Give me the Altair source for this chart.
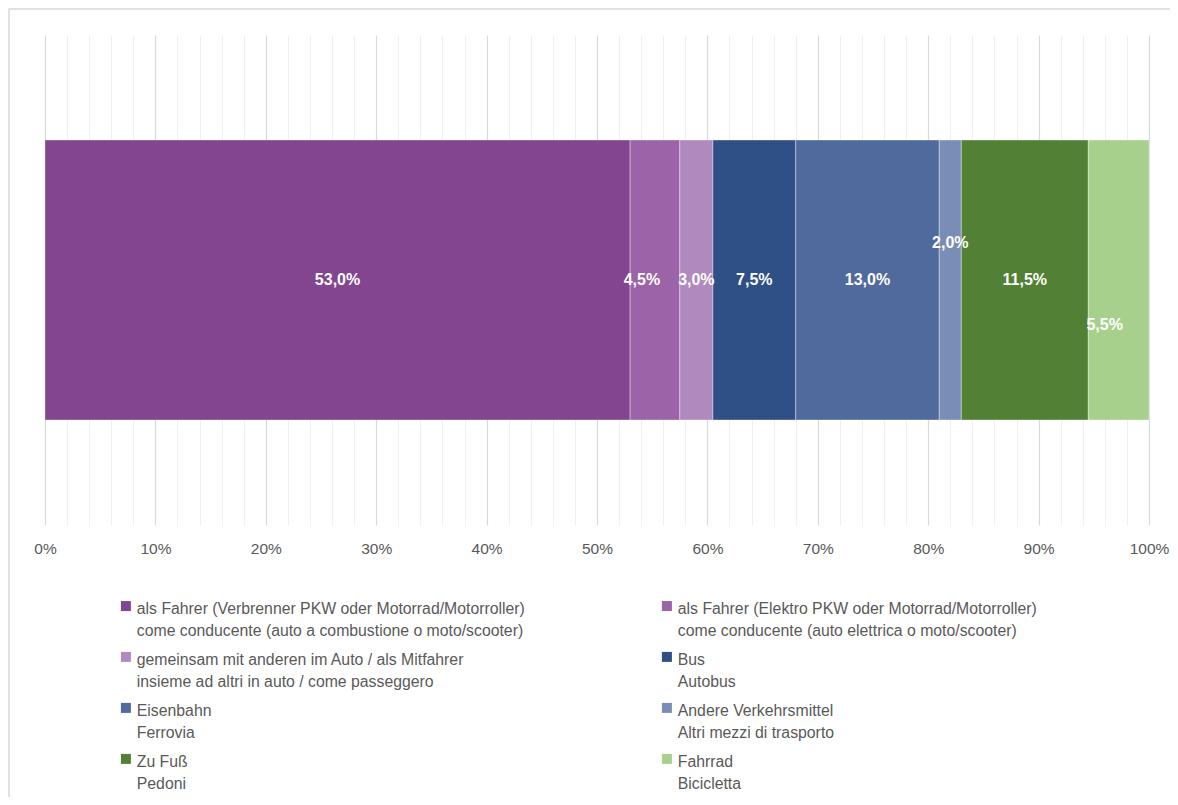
import altair as alt
import pandas as pd

categories = [
    "als Fahrer (Verbrenner PKW oder Motorrad/Motorroller)\ncome conducente (auto a combustione o moto/scooter)",
    "als Fahrer (Elektro PKW oder Motorrad/Motorroller)\ncome conducente (auto elettrica o moto/scooter)",
    "gemeinsam mit anderen im Auto / als Mitfahrer\ninsieme ad altri in auto / come passeggero",
    "Bus\nAutobus",
    "Eisenbahn\nFerrovia",
    "Andere Verkehrsmittel\nAltri mezzi di trasporto",
    "Zu Fuß\nPedoni",
    "Fahrrad\nBicicletta",
]
shares = [53.0, 4.5, 3.0, 7.5, 13.0, 2.0, 11.5, 5.5]
labels = ["53,0%", "4,5%", "3,0%", "7,5%", "13,0%", "2,0%", "11,5%", "5,5%"]
colors = ["#83458F", "#9B63A8", "#B089BE", "#2F4F87", "#506A9D", "#798DB6", "#528034", "#A8D08D"]
major_ticks = list(range(0, 101, 10))
minor_ticks = [v for v in range(0, 101, 2) if v % 10]

df = pd.DataFrame({
    "idx": list(range(len(categories))),
    "cat": categories,
    "share": shares,
    "label": labels,
    "grp": ["all"] * len(categories),
})

W, H = 1104, 490
GRAY = "#595959"

base = alt.Chart(df).transform_stack(
    stack="share", as_=["x0", "x1"], groupby=["grp"], sort=[alt.SortField("idx")]
).transform_calculate(mid="(datum.x0 + datum.x1) / 2")

yenc = alt.Y("grp:N", axis=None, scale=alt.Scale(paddingInner=0, paddingOuter=0.375))

bars = base.mark_bar(stroke="white", strokeWidth=0.6, strokeOpacity=0.6).encode(
    x=alt.X("x0:Q", scale=alt.Scale(domain=[0, 100], nice=False),
            axis=alt.Axis(orient="bottom", values=minor_ticks, grid=True, gridColor="#efefef",
                          gridWidth=1, labels=False, ticks=False, domain=False, title=None)),
    x2="x1:Q",
    y=yenc,
    color=alt.Color("cat:N", scale=alt.Scale(domain=categories, range=colors),
                    legend=alt.Legend(orient="none", legendX=73, legendY=559, columns=2,
                                      direction="horizontal",
                                      columnPadding=134, rowPadding=6, padding=0,
                                      symbolType="M-1,-0.2H1V1.8H-1Z", symbolSize=100,
                                      symbolStrokeWidth=0,
                                      labelExpr="split(datum.label, '\\n')",
                                      labelFont="Liberation Sans", labelFontSize=15.8,
                                      labelColor=GRAY, labelLimit=700, labelBaseline="top",
                                      labelOffset=3, title=None)),
)

def txt(cond, dx=0, dy=0, axis=False):
    if axis:
        xenc = alt.X("mid:Q", axis=alt.Axis(
            orient="bottom", values=major_ticks, grid=True, gridColor="#d9d9d9", gridWidth=1.2,
            labelExpr="datum.value + '%'", labelFont="Liberation Sans", labelFlush=False,
            labelFontSize=15.5, labelColor=GRAY, labelPadding=16,
            ticks=False, domain=False, title=None))
    else:
        xenc = alt.X("mid:Q", axis=None)
    return base.transform_filter(cond).mark_text(
        font="Liberation Sans", fontWeight="bold",
        fontSize=16, color="white", dx=dx, dy=dy,
    ).encode(x=xenc, y=yenc, text="label:N")

t_main = txt("datum.idx != 1 && datum.idx != 5 && datum.idx != 7", axis=True)
t1 = txt("datum.idx == 1", dx=-13)
t5 = txt("datum.idx == 5", dy=-37)
t7 = txt("datum.idx == 7", dx=-14, dy=45)

frame = alt.Chart(alt.Data(values=[{"f": 1}])).mark_rect(
    fillOpacity=0, stroke="#d9d9d9", strokeWidth=1.5
).encode(x=alt.value(-36), x2=alt.value(W + 60), y=alt.value(-26), y2=alt.value(H + 400))

chart = alt.layer(frame, bars, t_main, t1, t5, t7).resolve_axis(x="independent").properties(
    width=W, height=H,
    autosize=alt.AutoSizeParams(type="none"),
    padding={"left": 37, "top": 27, "right": 21, "bottom": 272},
).configure(style={"guide-label": {"lineHeight": 22}}).configure_view(stroke="transparent")

chart.save("out.html", embed_options={"renderer": "svg", "actions": False})
